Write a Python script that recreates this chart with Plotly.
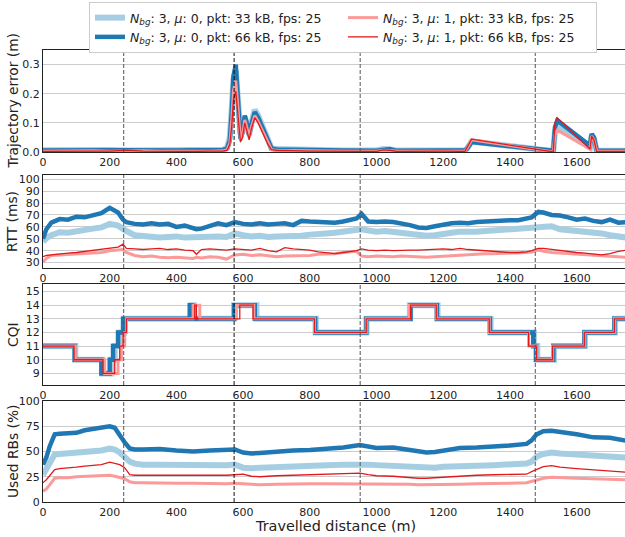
import plotly.graph_objects as go
from plotly.subplots import make_subplots

# ---------------- data ----------------
LEGEND_NAMES = [
    "<i>N</i><sub><i>bg</i></sub>: 3, <i>μ</i>: 0, pkt: 33 kB, fps: 25",
    "<i>N</i><sub><i>bg</i></sub>: 3, <i>μ</i>: 0, pkt: 66 kB, fps: 25",
    "<i>N</i><sub><i>bg</i></sub>: 3, <i>μ</i>: 1, pkt: 33 kB, fps: 25",
    "<i>N</i><sub><i>bg</i></sub>: 3, <i>μ</i>: 1, pkt: 66 kB, fps: 25",
]
EVENT_X = [242, 573, 951, 1476]
X_TICKS = [0, 200, 400, 600, 800, 1000, 1200, 1400, 1600]

# Trajectory error (m)
TE_X = [0, 50, 100, 150, 200, 250, 300, 350, 400, 450,
        500, 540, 552, 560, 566, 571, 578, 584, 592, 598,
        605, 612, 618, 625, 635, 645, 660, 675, 685, 700,
        800, 900, 1000, 1020, 1040, 1060, 1100, 1200, 1265, 1272,
        1285, 1520, 1530, 1535, 1542, 1640, 1645, 1652, 1660, 1700,
        1750]
TE_LB = [0.006, 0.007, 0.006, 0.006, 0.007, 0.005, 0.006, 0.005, 0.006, 0.005,
         0.006, 0.008, 0.015, 0.050, 0.150, 0.250, 0.280, 0.170, 0.060, 0.070,
         0.120, 0.090, 0.060, 0.100, 0.145, 0.125, 0.080, 0.035, 0.013, 0.010,
         0.006, 0.005, 0.005, 0.010, 0.009, 0.005, 0.005, 0.005, 0.005, 0.012,
         0.036, 0.004, 0.004, 0.070, 0.090, 0.015, 0.058, 0.045, 0.004, 0.004,
         0.004]
TE_DB = [0.005, 0.006, 0.007, 0.005, 0.006, 0.006, 0.005, 0.006, 0.005, 0.006,
         0.005, 0.007, 0.012, 0.040, 0.140, 0.260, 0.300, 0.180, 0.045, 0.065,
         0.125, 0.095, 0.057, 0.095, 0.137, 0.118, 0.075, 0.032, 0.012, 0.009,
         0.006, 0.005, 0.004, 0.008, 0.010, 0.004, 0.005, 0.005, 0.005, 0.012,
         0.034, 0.004, 0.004, 0.085, 0.108, 0.022, 0.062, 0.050, 0.005, 0.004,
         0.004]
TE_PK = [0.003, 0.004, 0.004, 0.004, 0.003, 0.004, 0.004, 0.003, 0.004, 0.003,
         0.003, 0.004, 0.008, 0.030, 0.110, 0.210, 0.245, 0.150, 0.040, 0.055,
         0.110, 0.080, 0.050, 0.085, 0.125, 0.105, 0.068, 0.028, 0.008, 0.006,
         0.004, 0.003, 0.003, 0.006, 0.005, 0.003, 0.003, 0.004, 0.003, 0.014,
         0.042, 0.002, 0.002, 0.060, 0.075, 0.010, 0.055, 0.040, 0.003, 0.003,
         0.003]
TE_RD = [0.002, 0.003, 0.004, 0.003, 0.003, 0.006, 0.003, 0.002, 0.003, 0.002,
         0.003, 0.003, 0.006, 0.025, 0.090, 0.180, 0.208, 0.130, 0.034, 0.050,
         0.100, 0.070, 0.042, 0.080, 0.118, 0.100, 0.065, 0.025, 0.008, 0.006,
         0.003, 0.002, 0.002, 0.007, 0.006, 0.002, 0.003, 0.003, 0.002, 0.015,
         0.044, 0.002, 0.002, 0.100, 0.117, 0.010, 0.055, 0.040, 0.002, 0.002,
         0.002]

# RTT (ms)
RTT_X = [0, 10, 25, 50, 75, 100, 125, 150, 175, 200,
         225, 240, 250, 275, 300, 325, 350, 375, 400, 425,
         450, 460, 475, 500, 525, 550, 575, 600, 625, 650,
         675, 700, 725, 750, 775, 800, 825, 850, 875, 900,
         925, 940, 955, 975, 1000, 1025, 1050, 1075, 1100, 1125,
         1150, 1175, 1200, 1225, 1250, 1275, 1300, 1325, 1350, 1375,
         1400, 1425, 1450, 1465, 1485, 1500, 1525, 1550, 1575, 1600,
         1625, 1650, 1675, 1700, 1725, 1750]
RTT_LB = [47.5, 50.5, 53, 55.5, 55, 56.5, 57, 58.5, 59.5, 62.5,
          61, 58, 56.5, 53, 52, 51.5, 51, 51.5, 52, 51,
          51.5, 50.5, 51, 51.5, 52, 51.5, 54.5, 53, 52, 52.5,
          51.5, 52, 52, 52.5, 52.5, 53.5, 54.5, 54.5, 55, 56,
          57, 57.5, 58, 57, 56, 56.5, 55.5, 55, 54, 53,
          52.5, 53, 54.5, 55, 56, 55.5, 56, 56.5, 57, 57.5,
          58, 58, 58.5, 59, 60, 59.5, 60.5, 58, 57.5, 56.5,
          55.5, 55, 54.5, 53, 51.5, 51]
RTT_DB = [50, 58, 63.5, 66.5, 66, 68.5, 68, 70, 71.5, 76,
          72, 66, 64, 62.5, 62, 63, 62, 62.5, 60, 61,
          59.5, 58, 58.5, 60.5, 63, 61.5, 64, 62.5, 62, 63,
          62, 62.5, 63, 61.5, 65, 64.5, 64, 63.5, 63.5, 64.5,
          66, 67, 71, 64.5, 64, 64.5, 64, 63, 61.5, 59.5,
          59, 60.5, 62, 63, 63.5, 63, 64, 64.5, 64.5, 65,
          65.5, 65.5, 66.5, 68, 72.5, 72, 70, 69.5, 68, 66,
          67, 65, 64, 66, 63.5, 64]
RTT_PK = [30.5, 33.5, 36, 36.5, 37, 37, 37.5, 38, 38.5, 40,
          40.5, 41, 38.5, 36, 35, 35.5, 34.5, 34, 34.5, 34,
          33.5, 34.5, 34, 35, 34.5, 33, 36.5, 37, 36, 36.5,
          35.5, 35, 35.5, 35.5, 36, 36, 37, 37, 37.5, 38.5,
          39, 39.5, 35.5, 35, 35.5, 35, 35, 35.5, 35, 35,
          34.5, 35, 35.5, 36, 36.5, 37, 37, 37.5, 37.5, 38,
          38, 38, 38.5, 39, 40.5, 39.5, 38.5, 38, 37.5, 37,
          36.5, 36, 35.5, 35, 34.5, 34.5]
RTT_RD = [35, 36, 36.5, 37.5, 38, 38.5, 39.5, 40, 41, 42.5,
          43, 45.5, 42, 41.5, 41, 41.5, 42, 41, 41.5, 40.5,
          40, 37, 41, 41.5, 41, 40.5, 41.5, 41, 40.5, 42,
          40, 39, 42.5, 41.5, 41, 40.5, 39, 38, 37.5, 38.5,
          39.5, 40, 41.5, 40.5, 40, 40.5, 40, 40.5, 40.5, 40.5,
          41, 41, 41.5, 41, 42, 41, 40.5, 39.5, 39, 39,
          38.5, 38.5, 39, 40, 42, 42, 41, 40, 39.5, 38.5,
          38, 37.5, 36.5, 37.5, 39.5, 40.5]

# CQI (step changes)
CQI_X_LB = [0, 97, 178, 205, 215, 230, 243, 445, 452, 573, 640, 818, 970, 1100, 1183, 1342, 1472, 1482, 1532, 1625, 1715, 1750]
CQI_X_DB = [0, 95, 175, 200, 210, 225, 240, 440, 447, 573, 635, 816, 969, 1102, 1181, 1340, 1470, 1478, 1530, 1623, 1713, 1750]
CQI_X_PK = [0, 97, 185, 225, 235, 245, 250, 450, 470, 580, 632, 814, 969, 1098, 1179, 1338, 1456, 1480, 1528, 1623, 1713, 1750]
CQI_X_RD = [0, 93, 180, 215, 230, 240, 250, 455, 460, 590, 630, 814, 969, 1102, 1179, 1338, 1456, 1480, 1528, 1623, 1713, 1750]
CQI_LEVELS = [11, 10, 9, 10, 11, 12, 13, 14, 13, 14, 13, 12, 13, 14, 13, 12, 11, 10, 11, 12, 13, 13]

# Used RBs (%)
RB_X = [0, 10, 20, 35, 50, 75, 100, 125, 150, 175,
        200, 215, 230, 245, 260, 275, 300, 350, 400, 450,
        500, 550, 575, 600, 625, 650, 700, 750, 800, 850,
        900, 950, 975, 1000, 1050, 1100, 1125, 1150, 1175, 1200,
        1250, 1300, 1350, 1400, 1450, 1465, 1480, 1500, 1525, 1550,
        1600, 1650, 1700, 1750]
RB_LB = [27, 32, 38, 47, 47.5, 48, 48.5, 49, 50, 51,
         53, 52, 49, 44, 40, 38, 37, 37, 36.5, 36.5,
         36, 36.5, 37, 34, 33.5, 34, 35, 35.5, 36, 36.5,
         37, 37.5, 37, 36.5, 36, 34.5, 34, 33.5, 34, 35,
         36, 36, 36.5, 37, 38, 40, 45, 47.5, 49, 48,
         47, 46, 45, 44]
RB_DB = [37, 44, 55, 67, 67.5, 68, 68.5, 71, 72.5, 73,
         75, 73.5, 66, 59, 53, 52, 52, 52.5, 51, 50,
         51, 51.5, 52, 49, 48, 48.5, 50, 51, 51.5, 52.5,
         54, 56.5, 55, 53.5, 54, 51, 49.5, 49, 49.5, 51,
         53.5, 54, 54.5, 56, 57.5, 61, 67, 70, 70.5, 69.5,
         67, 64, 63.5, 60.5]
RB_PK = [10.5, 13, 17, 23.5, 24, 24, 25, 25.5, 26, 26,
         26.5, 25.5, 24.5, 23, 20, 19, 19, 18.5, 18.5, 18.5,
         18, 18, 18.5, 18, 17.5, 17, 17.5, 18, 18, 18,
         18, 18, 18, 18, 18, 17.5, 17, 17, 17, 17.5,
         17.5, 18, 18, 18.5, 19, 20.5, 22, 23.5, 24.5, 24,
         23.5, 23, 22.5, 22]
RB_RD = [19, 22, 26, 32, 33, 33.5, 34.5, 35.5, 36, 37,
         39.5, 38.5, 37, 34, 27, 26.5, 26.5, 26.5, 26.5, 26,
         26, 26.5, 27, 27.5, 25.5, 25, 26, 26.5, 27, 27.5,
         28, 28.5, 27, 26, 25.5, 24, 23.5, 23.5, 24, 25,
         25.5, 26.5, 27, 27.5, 27.5, 30, 32, 35, 36, 34.5,
         33, 32, 31, 29.5]

# ---------------- styling ----------------
COLORS = ["#a6cee3", "#1f78b4", "#fb9a99", "#e31a1c"]
WIDTHS = [6, 4.5, 3, 1.3]
LEGEND_RANK = [1, 3, 2, 4]
FONT = "DejaVu Sans"

W, H = 625, 537
L = 43
PLOT_W = W - L
# panel pixel extents (top, bottom)
PANELS = [(50, 152), (175, 268), (284, 385), (401, 502)]

fig = make_subplots(rows=4, cols=1)

panels = [
    ([TE_X] * 4, [TE_LB, TE_DB, TE_PK, TE_RD], "linear"),
    ([RTT_X] * 4, [RTT_LB, RTT_DB, RTT_PK, RTT_RD], "linear"),
    ([CQI_X_LB, CQI_X_DB, CQI_X_PK, CQI_X_RD], [CQI_LEVELS] * 4, "hv"),
    ([RB_X] * 4, [RB_LB, RB_DB, RB_PK, RB_RD], "linear"),
]

for r, (xs, ys, shape) in enumerate(panels, start=1):
    for i in range(4):
        assert len(xs[i]) == len(ys[i]), (r, i, len(xs[i]), len(ys[i]))
        fig.add_trace(go.Scatter(
            x=xs[i], y=ys[i], mode="lines",
            line=dict(color=COLORS[i], width=WIDTHS[i], shape=shape),
            name=LEGEND_NAMES[i], legendrank=LEGEND_RANK[i],
            showlegend=(r == 1), hoverinfo="skip",
        ), row=r, col=1)

y_titles = ["Trajectory error (m)", "RTT (ms)", "CQI", "Used RBs (%)"]
y_ranges = [[0, 0.35], [25.5, 103.5], [8.15, 15.55], [0, 100]]
y_ticks = [[0, 0.1, 0.2, 0.3],
           [30, 40, 50, 60, 70, 80, 90, 100],
           [9, 10, 11, 12, 13, 14, 15],
           [0, 25, 50, 75, 100]]
y_ticktext = [["0.0", "0.1", "0.2", "0.3"], None, None, None]

axis_common = dict(showline=True, mirror=True, linecolor="#222", linewidth=1,
                   ticks="", zeroline=False, automargin=False,
                   tickfont=dict(family=FONT, size=11, color="#222"))

for idx, (top, bot) in enumerate(PANELS):
    sfx = "" if idx == 0 else str(idx + 1)
    dom = [1 - bot / H, 1 - top / H]
    fig.layout["xaxis" + sfx].update(
        domain=[0, 1], range=[0, 1745], tickvals=X_TICKS, showgrid=False,
        **axis_common)
    ydict = dict(domain=dom, range=y_ranges[idx], tickvals=y_ticks[idx],
                 showgrid=True, gridcolor="#cccccc", gridwidth=1, **axis_common)
    if y_ticktext[idx]:
        ydict["ticktext"] = y_ticktext[idx]
    fig.layout["yaxis" + sfx].update(**ydict)
    for k, ev in enumerate(EVENT_X):
        fig.add_shape(type="line", x0=ev, x1=ev, y0=0, y1=1,
                      xref="x" + sfx, yref="y" + sfx + " domain",
                      line=dict(color="#111" if ev == 573 else "#555", width=1,
                                dash="4px,2px"),
                      layer="above")
    fig.add_annotation(text=y_titles[idx], textangle=-90,
                       x=(12.5 - L) / PLOT_W, xref="paper",
                       y=0.5, yref="y" + sfx + " domain",
                       xanchor="center", yanchor="middle", showarrow=False,
                       font=dict(family=FONT, size=13.8, color="#222"))

fig.add_annotation(text="Travelled distance (m)", x=(335 - L) / PLOT_W, xref="paper",
                   y=1 - 525.5 / H, yref="paper", xanchor="center", yanchor="middle",
                   showarrow=False, font=dict(family=FONT, size=14.4, color="#222"))

fig.update_layout(
    width=W, height=H,
    margin=dict(l=L, r=0, t=0, b=0, autoexpand=False),
    paper_bgcolor="white", plot_bgcolor="white",
    font=dict(family=FONT, color="#222"),
    legend=dict(orientation="h", x=(89 - L) / PLOT_W, y=1 - 2 / H,
                xanchor="left", yanchor="top",
                entrywidth=208, entrywidthmode="pixels",
                bgcolor="white", bordercolor="#cccccc", borderwidth=1,
                font=dict(family=FONT, size=12.5, color="#222"),
                tracegroupgap=0, itemwidth=30),
    showlegend=True,
)

fig.write_html("out.html", config={"displayModeBar": False},
               post_script="document.body.style.margin='0';")
